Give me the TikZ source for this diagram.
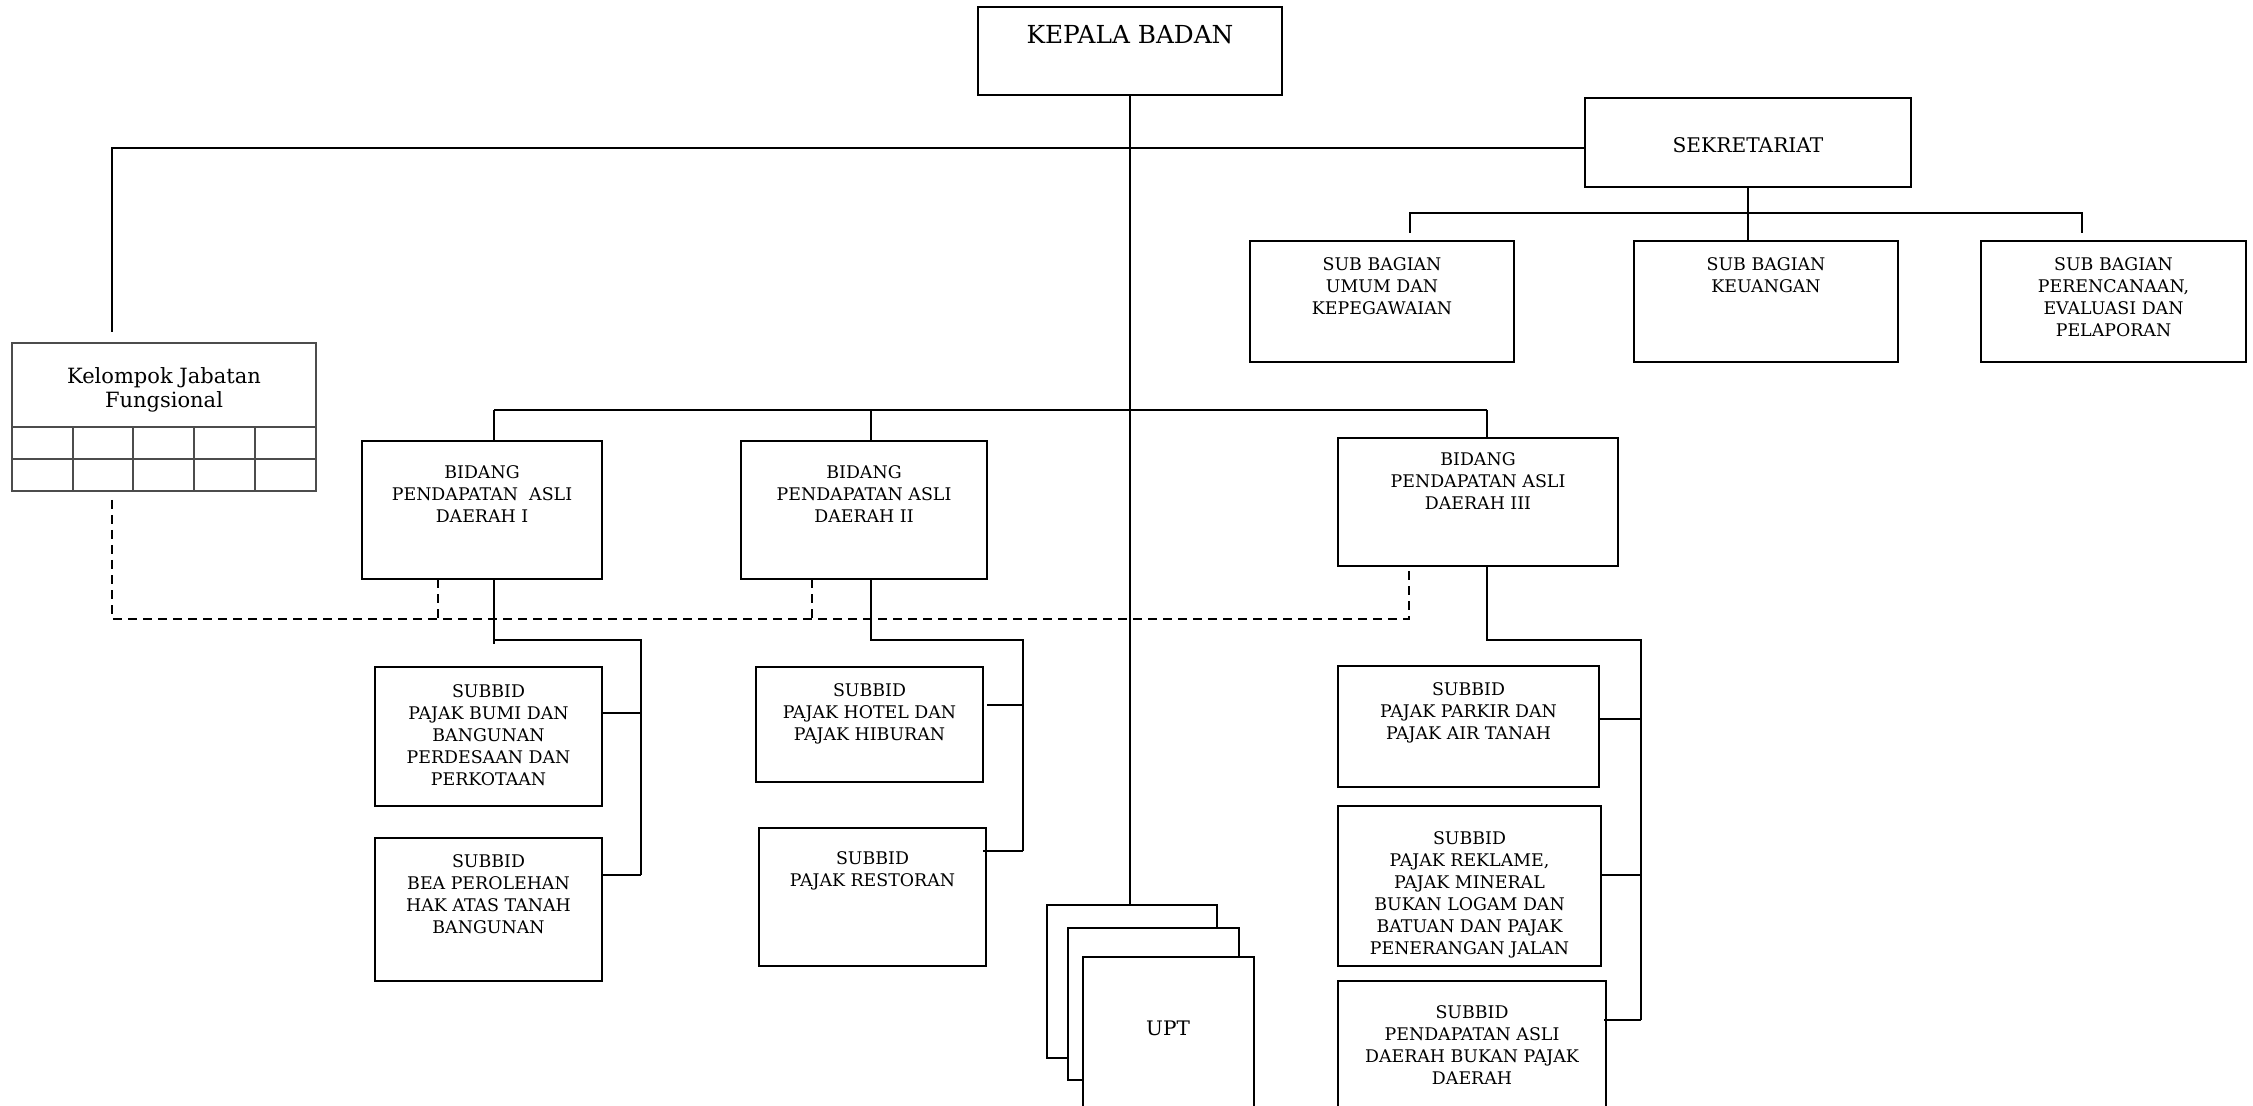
\documentclass[tikz,border=0pt]{standalone}
\usepackage{fontspec}
\setmainfont{DejaVu Serif}
\newcommand\orgbox[6][]{\node[box,#1,minimum width={(#4-#2)*0.5pt},minimum height={(#5-#3)*0.5pt}] (#6) at ({(#2+#4)/2},{(#3+#5)/2}) {};}
\begin{document}
\begin{tikzpicture}[x=0.5pt,y=-0.5pt,
  box/.style={draw, line width=1.1pt, inner sep=0pt, outer sep=0pt, fill=white},
  thinbox/.style={draw=black!70, line width=0.6pt},
  txt/.style={align=center, inner sep=0pt, font=\fontsize{8.7}{11}\selectfont},
  ln/.style={line width=1.1pt},
  dln/.style={line width=1.1pt, dash pattern=on 4.5pt off 3pt},
  grid/.style={draw=black!70, line width=0.6pt}]
\useasboundingbox (0,0) rectangle (2253,1106);
\clip (0,0) rectangle (2253,1106);

% ---------- boxes ----------
\orgbox{978}{7}{1282}{95}{kb}
\orgbox{1585}{98}{1911}{187}{sek}
\orgbox{1250}{241}{1514}{362}{sb1}
\orgbox{1634}{241}{1898}{362}{sb2}
\orgbox{1981}{241}{2246}{362}{sb3}
\orgbox[thinbox]{12}{343}{316}{491}{kjf}
\orgbox{362}{441}{602}{579}{b1}
\orgbox{741}{441}{987}{579}{b2}
\orgbox{1338}{438}{1618}{566}{b3}
\orgbox{375}{667}{602}{806}{s1}
\orgbox{375}{838}{602}{981}{s2}
\orgbox{756}{667}{983}{782}{s3}
\orgbox{759}{828}{986}{966}{s4}
\orgbox{1338}{666}{1599}{787}{s5}
\orgbox{1338}{806}{1601}{966}{s6}
\orgbox{1338}{981}{1606}{1125}{s7}
\orgbox{1047}{905}{1217}{1058}{upta}
\orgbox{1068}{928}{1239}{1080}{uptb}
\orgbox{1083}{957}{1254}{1125}{uptc}

% grid of Kelompok box
\draw[grid] (12,427) -- (316,427);
\draw[grid] (12,459) -- (316,459);
\foreach \gx in {73,133,194,255} \draw[grid] (\gx,427) -- (\gx,491);

% ---------- texts ----------
\node[txt, anchor=north, font=\fontsize{12.4}{14}\selectfont] (tkb) at ([yshift=-9pt]kb.north) {KEPALA BADAN};
\node[txt, font=\fontsize{10.1}{12}\selectfont] (tsek) at (1748,145) {SEKRETARIAT};
\node[txt, anchor=north] (tsb1) at ([yshift=-8pt]sb1.north) {SUB BAGIAN\\UMUM DAN\\KEPEGAWAIAN};
\node[txt, anchor=north] (tsb2) at ([yshift=-8pt]sb2.north) {SUB BAGIAN\\KEUANGAN};
\node[txt, anchor=north] (tsb3) at ([yshift=-8pt]sb3.north) {SUB BAGIAN\\PERENCANAAN,\\EVALUASI DAN\\PELAPORAN};
\node[txt, anchor=north, font=\fontsize{10.5}{12}\selectfont] (tkjf) at ([yshift=-12pt]kjf.north) {Kelompok Jabatan\\Fungsional};
\node[txt, anchor=north] (tb1) at ([yshift=-12pt]b1.north) {BIDANG\\PENDAPATAN~ ASLI\\DAERAH I};
\node[txt, anchor=north] (tb2) at ([yshift=-12pt]b2.north) {BIDANG\\PENDAPATAN ASLI\\DAERAH II};
\node[txt, anchor=north] (tb3) at ([yshift=-7pt]b3.north) {BIDANG\\PENDAPATAN ASLI\\DAERAH III};
\node[txt, anchor=north] (ts1) at ([yshift=-8.5pt]s1.north) {SUBBID\\PAJAK BUMI DAN\\BANGUNAN\\PERDESAAN DAN\\PERKOTAAN};
\node[txt, anchor=north] (ts2) at ([yshift=-8pt]s2.north) {SUBBID\\BEA PEROLEHAN\\HAK ATAS TANAH\\BANGUNAN};
\node[txt, anchor=north] (ts3) at ([yshift=-8pt]s3.north) {SUBBID\\PAJAK HOTEL DAN\\PAJAK HIBURAN};
\node[txt, anchor=north] (ts4) at ([yshift=-11.5pt]s4.north) {SUBBID\\PAJAK RESTORAN};
\node[txt, anchor=north] (ts5) at ([yshift=-8pt]s5.north) {SUBBID\\PAJAK PARKIR DAN\\PAJAK AIR TANAH};
\node[txt, anchor=north] (ts6) at ([yshift=-12.5pt]s6.north) {SUBBID\\PAJAK REKLAME,\\PAJAK MINERAL\\BUKAN LOGAM DAN\\BATUAN DAN PAJAK\\PENERANGAN JALAN};
\node[txt, anchor=north] (ts7) at ([yshift=-12pt]s7.north) {SUBBID\\PENDAPATAN ASLI\\DAERAH BUKAN PAJAK\\DAERAH};
\node[txt, font=\fontsize{10}{12}\selectfont] (tupt) at (1168,1028) {UPT};

% ---------- coordinates ----------
\coordinate (sekl) at (1585,148);
\coordinate (kjtop) at (112,332);
\coordinate (sbl) at (1410,213);
\coordinate (sbr) at (2082,213);
\coordinate (sbld) at (1410,233);
\coordinate (sbrd) at (2082,233);
\coordinate (bus1) at (494,410);
\coordinate (bus2) at (871,410);
\coordinate (bus3) at (1487,410);
\coordinate (r1a) at (494,640);
\coordinate (r1b) at (641,640);
\coordinate (r1c) at (641,713);
\coordinate (r1d) at (641,875);
\coordinate (r2a) at (871,640);
\coordinate (r2b) at (1023,640);
\coordinate (r2c) at (1023,705);
\coordinate (r2d) at (1023,851);
\coordinate (r3a) at (1487,640);
\coordinate (r3b) at (1641,640);
\coordinate (r3c) at (1641,719);
\coordinate (r3d) at (1641,875);
\coordinate (r3e) at (1641,1020);
\coordinate (dk) at (112,500);
\coordinate (dl) at (112,619);
\coordinate (dr) at (1409,619);
\coordinate (dd1) at (438,619);
\coordinate (dd2) at (812,619);

% ---------- solid connectors ----------
\draw[ln] (kb.south) -- (kb.south |- upta.north);
\draw[ln] (sekl) -| (kjtop);
\draw[ln] (sek.south) -- (sek.south |- sb2.north);
\draw[ln] (sbld) -- (sbl) -- (sbr) -- (sbrd);
\draw[ln] (bus1) -- (bus3);
\draw[ln] (bus1) -- (bus1 |- b1.north);
\draw[ln] (bus2) -- (bus2 |- b2.north);
\draw[ln] (bus3) -- (bus3 |- b3.north);
% bidang I
\draw[ln] (r1a |- b1.south) -- ([yshift=-2pt]r1a);
\draw[ln] (r1a) -- (r1b) -- (r1d);
\draw[ln] (s1.east |- r1c) -- (r1c);
\draw[ln] (s2.east |- r1d) -- (r1d);
% bidang II
\draw[ln] (r2a |- b2.south) -- (r2a) -- (r2b) -- (r2d);
\draw[ln] ([xshift=2pt]s3.east |- r2c) -- (r2c);
\draw[ln] ([xshift=-1.5pt]s4.east |- r2d) -- (r2d);
% bidang III
\draw[ln] (r3a |- b3.south) -- (r3a) -- (r3b) -- (r3e);
\draw[ln] ([xshift=0.5pt]s5.east |- r3c) -- (r3c);
\draw[ln] (s6.east |- r3d) -- (r3d);
\draw[ln] ([xshift=-1pt]s7.east |- r3e) -- (r3e);

% ---------- dashed connectors ----------
\draw[dln] (dk) -- (dl) -- (dr) -- (dr |- b3.south);
\draw[dln] (dd1 |- b1.south) -- (dd1);
\draw[dln] (dd2 |- b2.south) -- (dd2);
\end{tikzpicture}
\end{document}
